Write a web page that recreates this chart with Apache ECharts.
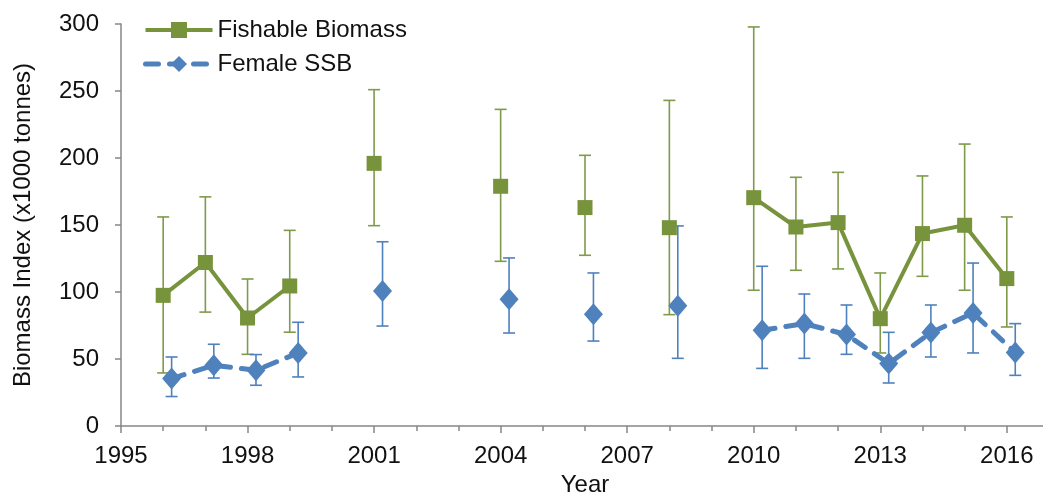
<!DOCTYPE html>
<html>
<head>
<meta charset="utf-8">
<script src="https://cdn.jsdelivr.net/npm/echarts@6/dist/echarts.min.js"></script>
<style>
  html, body { margin: 0; padding: 0; background: #fff; }
  #chart { width: 1043px; height: 493px; }
</style>
</head>
<body>
<div id="chart"></div>
<script>
// survey years and index values (x1000 tonnes)
const surveyYears = [1996, 1997, 1998, 1999, 2001, 2004, 2006, 2008, 2010, 2011, 2012, 2013, 2014, 2015, 2016];

const fishable     = [97.5, 122, 80.6, 104.5, 196, 178.9, 163, 148, 170.4, 148.5, 151.8, 80.1, 143.6, 149.8, 110];
const fishableLow  = [39.6, 85, 53.5, 70, 149.5, 122.9, 127.4, 83.1, 101.3, 116.2, 117.2, 54.5, 111.7, 101.3, 73.9];
const fishableHigh = [156, 171, 109.7, 146, 251, 236.3, 202, 243, 297.8, 185.6, 189.3, 114.2, 186.6, 210.4, 156];

const ssb     = [35.4, 45.3, 41.6, 54.5, 100.7, 94.6, 83.4, 89.8, 71.4, 76.4, 68.2, 46.6, 69.7, 84.3, 54.8];
const ssbLow  = [22, 35.8, 30.4, 36.6, 74.6, 69.4, 63.4, 50.5, 43, 50.5, 53.5, 32.1, 51.5, 54.5, 37.8];
const ssbHigh = [51.5, 61, 53.3, 77.4, 137.5, 125.4, 114.2, 149.3, 119.2, 98.5, 90.3, 69.9, 90.3, 121.6, 76.4];

const ssbShift = 0.2; // SSB points are plotted slightly right of the year

const GREEN = '#77933C';
const GREEN_BAR = '#7F9A4A';
const BLUE = '#4F81BD';
const AXIS = '#868686';
const FONT = '"Liberation Sans", Arial, sans-serif';

// line data: break the line wherever a survey year is missing
function lineData(vals, shift) {
  const out = [];
  surveyYears.forEach((y, i) => {
    if (i > 0 && y - surveyYears[i - 1] > 1) out.push([y - 0.5, '-']);
    out.push([y + shift, vals[i]]);
  });
  return out;
}

function barData(low, high, shift) {
  return surveyYears.map((y, i) => [y + shift, low[i], high[i]]);
}

function errorBar(color) {
  return function (params, api) {
    const x = api.value(0);
    const lo = api.coord([x, api.value(1)]);
    const hi = api.coord([x, api.value(2)]);
    const w = 6;
    const style = { stroke: color, lineWidth: 1.6 };
    return {
      type: 'group',
      children: [
        { type: 'line', shape: { x1: lo[0], y1: lo[1], x2: hi[0], y2: hi[1] }, style: style },
        { type: 'line', shape: { x1: hi[0] - w, y1: hi[1], x2: hi[0] + w, y2: hi[1] }, style: style },
        { type: 'line', shape: { x1: lo[0] - w, y1: lo[1], x2: lo[0] + w, y2: lo[1] }, style: style }
      ]
    };
  };
}

const chart = echarts.init(document.getElementById('chart'));

chart.setOption({
  animation: false,
  backgroundColor: '#fff',
  textStyle: { fontFamily: FONT },
  grid: { left: 121, top: 24, width: 928, bottom: 67, outerBoundsMode: 'none', containLabel: false },
  legend: {
    left: 138,
    top: 13,
    orient: 'vertical',
    itemWidth: 67,
    itemHeight: 20,
    itemGap: 10,
    textStyle: { fontSize: 24, color: '#111', fontFamily: FONT },
    data: [
      { name: 'Fishable Biomass', lineStyle: { width: 4, color: GREEN } },
      { name: 'Female SSB', lineStyle: { width: 5, color: BLUE, type: [13, 11] } }
    ]
  },
  xAxis: {
    type: 'value',
    min: 1995,
    max: 2017,
    interval: 3,
    name: 'Year',
    nameLocation: 'middle',
    nameGap: 41,
    nameTextStyle: { fontSize: 24, color: '#111', fontFamily: FONT },
    axisLine: { show: true, lineStyle: { color: AXIS, width: 1.5 } },
    axisTick: { show: true, length: 7, lineStyle: { color: AXIS, width: 1.5 } },
    minorTick: { show: true, splitNumber: 3, length: 5, lineStyle: { color: AXIS, width: 1.5 } },
    splitLine: { show: false },
    axisLabel: {
      fontSize: 24,
      color: '#111',
      margin: 18,
      fontFamily: FONT,
      formatter: v => ((v - 1995) % 3 === 0 && v <= 2016 ? String(v) : '')
    }
  },
  yAxis: {
    type: 'value',
    min: 0,
    max: 300,
    interval: 50,
    name: 'Biomass Index (x1000 tonnes)',
    nameLocation: 'middle',
    nameGap: 86,
    nameTextStyle: { fontSize: 24, color: '#111', fontFamily: FONT },
    axisLine: { show: true, lineStyle: { color: AXIS, width: 1.5 } },
    axisTick: { show: true, length: 6, lineStyle: { color: AXIS, width: 1.5 } },
    splitLine: { show: false },
    axisLabel: { fontSize: 24, color: '#111', margin: 22, fontFamily: FONT }
  },
  series: [
    {
      name: 'fishErr',
      type: 'custom',
      renderItem: errorBar(GREEN_BAR),
      data: barData(fishableLow, fishableHigh, 0),
      z: 1,
      silent: true
    },
    {
      name: 'ssbErr',
      type: 'custom',
      renderItem: errorBar(BLUE),
      data: barData(ssbLow, ssbHigh, ssbShift),
      z: 1,
      silent: true
    },
    {
      name: 'Female SSB',
      type: 'line',
      data: lineData(ssb, ssbShift),
      connectNulls: false,
      showAllSymbol: true,
      symbol: 'diamond',
      symbolSize: [19, 22],
      itemStyle: { color: BLUE },
      lineStyle: { color: BLUE, width: 5, type: [13, 11], cap: 'round' },
      z: 3
    },
    {
      name: 'Fishable Biomass',
      type: 'line',
      data: lineData(fishable, 0),
      connectNulls: false,
      showAllSymbol: true,
      symbol: 'rect',
      symbolSize: 15,
      itemStyle: { color: GREEN },
      lineStyle: { color: GREEN, width: 4 },
      z: 4
    }
  ]
});
</script>
</body>
</html>
